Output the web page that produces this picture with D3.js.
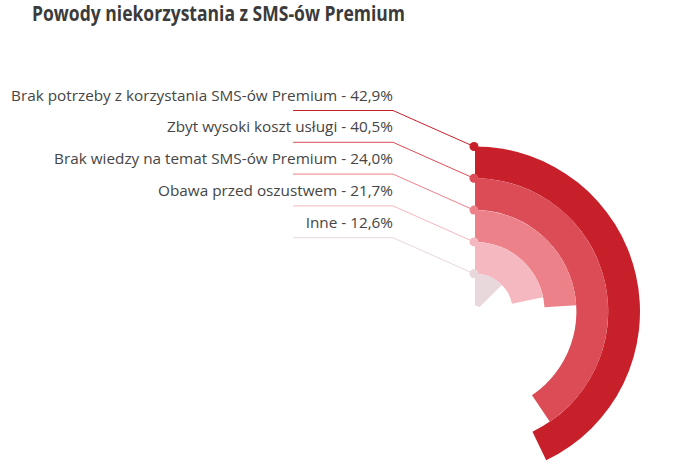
<!DOCTYPE html>
<html>
<head>
<meta charset="utf-8">
<script src="https://cdn.jsdelivr.net/npm/d3@7"></script>
<style>
  body { margin: 0; background: #fff; }
  text { font-family: "Open Sans", sans-serif; }
</style>
</head>
<body>
<svg id="chart" width="685" height="465"></svg>
<script>
const title = "Powody niekorzystania z SMS-ów Premium";
const categories = [
    "Brak potrzeby z korzystania SMS-ów Premium",
    "Zbyt wysoki koszt usługi",
    "Brak wiedzy na temat SMS-ów Premium",
    "Obawa przed oszustwem",
    "Inne"
];
const values = [42.9, 40.5, 24.0, 21.7, 12.6];
const colors = ["#c8202a", "#dc4c57", "#ec8189", "#f6b8c0", "#e8d7db"];

const pl = d3.formatLocale({decimal: ",", thousands: " ", grouping: [3], currency: ["", " zł"]});
const fmt = pl.format(".1f");

const svg = d3.select("#chart");
const cx = 475, cy = 311.5;

// title is a narrow bold face in the original, squeeze it to the same width
svg.append("text")
    .attr("x", 32)
    .attr("y", 21)
    .attr("font-size", 21)
    .attr("font-weight", 700)
    .attr("fill", "#3b3b3b")
    .attr("textLength", 373)
    .attr("lengthAdjust", "spacingAndGlyphs")
    .text(title);

const angle = d3.scaleLinear().domain([0, 100]).range([0, 2 * Math.PI]);
const ring = d3.scaleBand().domain(categories).range([165, 6]);
const color = d3.scaleOrdinal().domain(categories).range(colors);

const rows = categories.map((c, i) => ({name: c, value: values[i]}));
const outer = d => ring(d.name) + ring.bandwidth();

const arc = d3.arc()
    .innerRadius(d => ring(d.name))
    .outerRadius(outer)
    .startAngle(0)
    .endAngle(d => angle(d.value));

const g = svg.append("g");

// leader lines
g.selectAll("path.leader")
    .data(rows)
    .join("path")
    .attr("class", "leader")
    .attr("fill", "none")
    .attr("stroke", d => color(d.name))
    .attr("stroke-width", 1)
    .attr("d", d => {
        const ty = cy - outer(d);
        const ly = ty - 36;
        return `M293,${ly}H393L${cx - 1},${ty}`;
    });

g.append("g")
    .attr("transform", `translate(${cx},${cy})`)
    .selectAll("path")
    .data(rows)
    .join("path")
    .attr("d", arc)
    .attr("fill", d => color(d.name));

g.selectAll("circle")
    .data(rows)
    .join("circle")
    .attr("cx", cx - 1)
    .attr("cy", d => cy - outer(d))
    .attr("r", 4.5)
    .attr("fill", d => color(d.name));

g.selectAll("text.label")
    .data(rows)
    .join("text")
    .attr("class", "label")
    .attr("x", 393)
    .attr("y", d => cy - outer(d) - 46)
    .attr("text-anchor", "end")
    .attr("font-size", 15.3)
    .attr("fill", "#454545")
    .text(d => `${d.name} - ${fmt(d.value)}%`);
</script>
</body>
</html>
